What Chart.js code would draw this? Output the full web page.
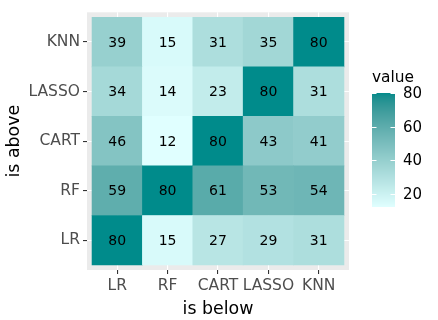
<!DOCTYPE html>
<html>
<head>
<meta charset="utf-8">
<script src="https://cdn.jsdelivr.net/npm/chart.js@4.4.1/dist/chart.umd.min.js"></script>
<style>
  html, body { margin: 0; padding: 0; background: #ffffff; }
  #wrap { width: 438px; height: 320px; position: relative; }
</style>
</head>
<body>
<div id="wrap"><canvas id="c" width="438" height="320"></canvas></div>
<script>
// ---- data ----
const columns = ["LR", "RF", "CART", "LASSO", "KNN"];          // "is below"
const rowsBottomToTop = ["LR", "RF", "CART", "LASSO", "KNN"];  // "is above"
const rowLR    = [80, 15, 27, 29, 31];
const rowRF    = [59, 80, 61, 53, 54];
const rowCART  = [46, 12, 80, 43, 41];
const rowLASSO = [34, 14, 23, 80, 31];
const rowKNN   = [39, 15, 31, 35, 80];
const legendTicks = [20, 40, 60, 80];

const rowValues = [rowLR, rowRF, rowCART, rowLASSO, rowKNN];
const allVals = rowValues.flat();
const vMin = Math.min(...allVals), vMax = Math.max(...allVals);

// ---- colour scale (Lab interpolation like ggplot) ----
const LOW = [224, 255, 255], HIGH = [0, 139, 139];
function toLin(c){ c/=255; return c<=0.04045? c/12.92 : Math.pow((c+0.055)/1.055,2.4); }
function fromLin(c){ const v = c<=0.0031308? 12.92*c : 1.055*Math.pow(c,1/2.4)-0.055; return Math.round(Math.max(0,Math.min(1,v))*255); }
const Wn=[0.95047,1,1.08883];
function f(t){ return t>0.008856? Math.cbrt(t) : 7.787*t+16/116; }
function fi(t){ return t>0.206893? t*t*t : (t-16/116)/7.787; }
function rgb2lab(rgb){
  const [r,g,b]=rgb.map(toLin);
  const X=(0.4124*r+0.3576*g+0.1805*b)/Wn[0], Y=(0.2126*r+0.7152*g+0.0722*b)/Wn[1], Z=(0.0193*r+0.1192*g+0.9505*b)/Wn[2];
  return [116*f(Y)-16, 500*(f(X)-f(Y)), 200*(f(Y)-f(Z))];
}
function lab2rgb(lab){
  const fy=(lab[0]+16)/116, fx=fy+lab[1]/500, fz=fy-lab[2]/200;
  const X=fi(fx)*Wn[0], Y=fi(fy)*Wn[1], Z=fi(fz)*Wn[2];
  const r= 3.2406*X-1.5372*Y-0.4986*Z, g=-0.9689*X+1.8758*Y+0.0415*Z, b=0.0557*X-0.2040*Y+1.0570*Z;
  return [fromLin(r),fromLin(g),fromLin(b)];
}
const labLow=rgb2lab(LOW), labHigh=rgb2lab(HIGH);
function colorFor(v){
  const t=(v-vMin)/(vMax-vMin);
  const lab=labLow.map((a,i)=>a+(labHigh[i]-a)*t);
  const c=lab2rgb(lab);
  return `rgb(${c[0]},${c[1]},${c[2]})`;
}

// ---- datasets: one per row, floating bars spanning the row band ----
const datasets = rowValues.map((vals, ri) => {
  const r = ri + 1;
  return {
    label: rowsBottomToTop[ri],
    data: columns.map((c, j) => ({ x: j + 1, y: [r - 0.5, r + 0.5], v: vals[j] })),
    backgroundColor: vals.map(colorFor),
    borderWidth: 0,
    barPercentage: 1.0,
    categoryPercentage: 1.0,
    grouped: false
  };
});

const FONT = "'DejaVu Sans', sans-serif";

const panelBg = {
  id: 'panelBg',
  beforeDraw(chart){
    const {ctx, chartArea:a} = chart;
    ctx.save(); ctx.fillStyle = '#EBEBEB';
    ctx.fillRect(a.left, a.top, a.right-a.left, a.bottom-a.top);
    ctx.restore();
  }
};

const cellLabels = {
  id: 'cellLabels',
  afterDatasetsDraw(chart){
    const ctx = chart.ctx;
    ctx.save();
    ctx.font = `14px ${FONT}`;
    ctx.fillStyle = '#000';
    ctx.textAlign = 'center'; ctx.textBaseline = 'middle';
    chart.data.datasets.forEach((ds, di) => {
      const meta = chart.getDatasetMeta(di);
      meta.data.forEach((el, j) => {
        const p = el.getProps(['x','y','base'], true);
        ctx.fillText(String(ds.data[j].v), p.x, (p.y + p.base)/2 + 1);
      });
    });
    ctx.restore();
  }
};

const colorbar = {
  id: 'colorbar',
  afterDraw(chart){
    const ctx = chart.ctx;
    const x0 = 372, w = 23, yTop = 93, yBot = 207;
    const yOf = v => yBot - (v - vMin)/(vMax - vMin)*(yBot - yTop);
    ctx.save();
    for (let y = yTop; y < yBot; y++) {
      const v = vMin + (yBot - y - 0.5)/(yBot - yTop)*(vMax - vMin);
      ctx.fillStyle = colorFor(v);
      ctx.fillRect(x0, y, w, 1);
    }
    ctx.strokeStyle = '#ffffff'; ctx.lineWidth = 1;
    ctx.fillStyle = '#000'; ctx.font = `15px ${FONT}`;
    ctx.textAlign = 'left'; ctx.textBaseline = 'middle';
    legendTicks.forEach(t => {
      const y = Math.round(yOf(t)) + 0.5;
      ctx.beginPath();
      ctx.moveTo(x0, y); ctx.lineTo(x0 + 4.5, y);
      ctx.moveTo(x0 + w - 4.5, y); ctx.lineTo(x0 + w, y);
      ctx.stroke();
      ctx.fillText(String(t), x0 + w + 8, y + 1);
    });
    ctx.font = `15.4px ${FONT}`;
    ctx.textBaseline = 'alphabetic';
    ctx.fillText('value', x0, 82);
    ctx.restore();
  }
};

new Chart(document.getElementById('c'), {
  type: 'bar',
  data: { datasets },
  options: {
    responsive: false,
    animation: false,
    devicePixelRatio: 1,
    layout: { padding: { top: 7, right: 89, left: 0, bottom: 0 } },
    plugins: { legend: { display: false }, tooltip: { enabled: false } },
    scales: {
      x: {
        type: 'linear', min: 0.4, max: 5.6, offset: false,
        afterBuildTicks(s){ s.ticks = columns.map((c,i)=>({value:i+1})); },
        afterFit(s){ s.height = 50; },
        ticks: { callback: (v) => columns[Math.round(v)-1] ?? '', color: '#4D4D4D',
                 font: { family: FONT, size: 15.5 }, padding: 3, maxRotation: 0, autoSkip: false },
        grid: { offset: false, color: '#ffffff', lineWidth: 1.1, tickColor: '#333333', tickLength: 4, drawTicks: true },
        border: { display: false },
        title: { display: true, text: 'is below', color: '#000', font: { family: FONT, size: 17.4 },
                 padding: { top: 0, bottom: 0 } }
      },
      y: {
        type: 'linear', min: 0.4, max: 5.6, offset: false,
        afterBuildTicks(s){ s.ticks = rowsBottomToTop.map((c,i)=>({value:i+1})); },
        afterFit(s){ s.width = 87; },
        ticks: { callback: (v) => rowsBottomToTop[Math.round(v)-1] ?? '', color: '#4D4D4D',
                 font: { family: FONT, size: 15.5 }, padding: 3, autoSkip: false },
        grid: { offset: false, color: '#ffffff', lineWidth: 1.1, tickColor: '#333333', tickLength: 4, drawTicks: true },
        border: { display: false },
        title: { display: true, text: 'is above', color: '#000', font: { family: FONT, size: 17.4 },
                 padding: { top: 4, bottom: 0 } }
      }
    }
  },
  plugins: [panelBg, cellLabels, colorbar]
});
</script>
</body>
</html>
